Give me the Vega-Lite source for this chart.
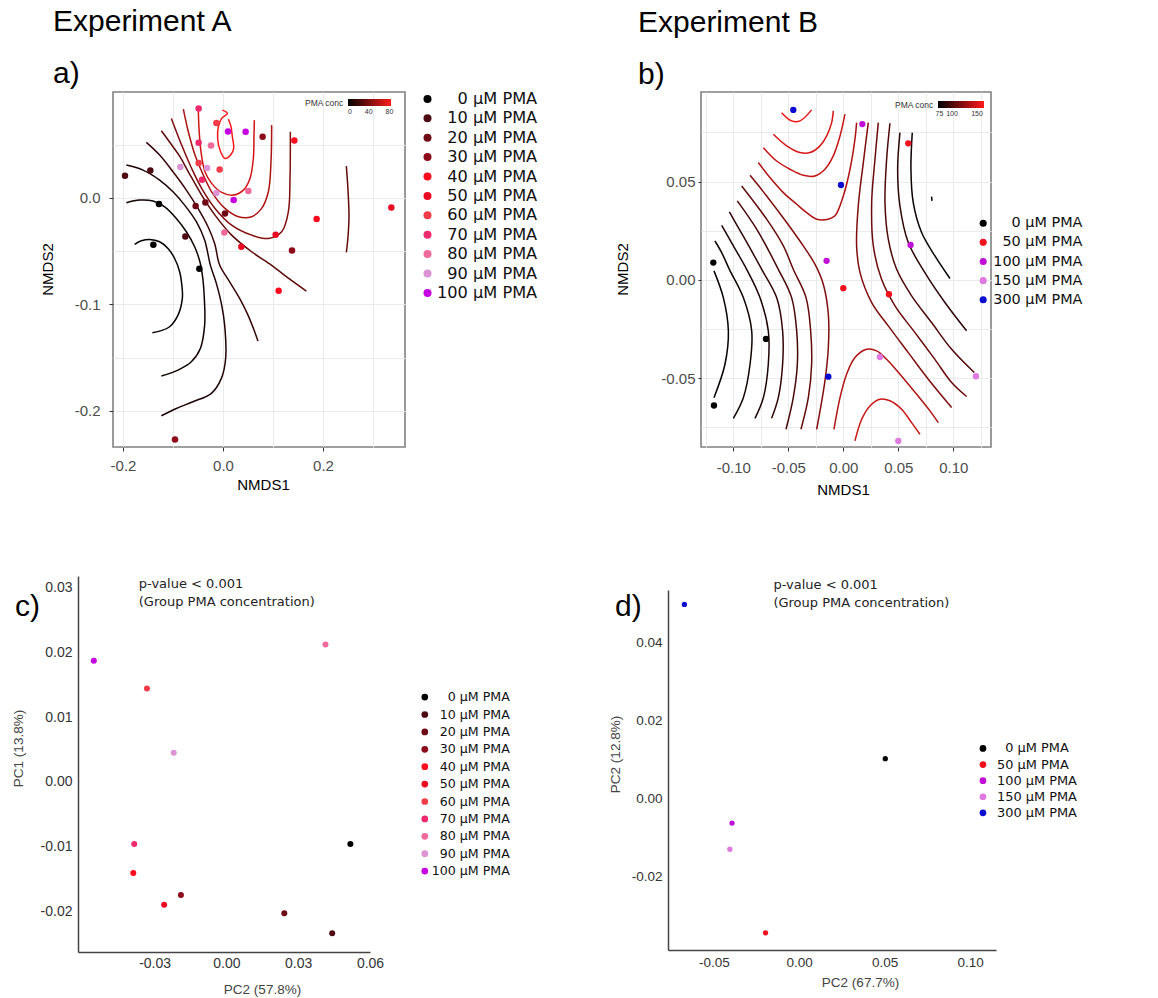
{
  "$schema": "https://vega.github.io/schema/vega-lite/v6.json",
  "padding": {"left": 11, "top": 6, "right": 5, "bottom": 5},
  "config": {
    "font": "Liberation Sans",
    "view": {"stroke": null},
    "axis": {"labelFont": "Liberation Sans", "titleFont": "Liberation Sans", "titleFontWeight": "normal"},
    "legend": {"padding": 0, "labelFont": "DejaVu Sans", "titleFont": "Liberation Sans"},
    "title": {"font": "Liberation Sans", "subtitleFont": "Liberation Sans", "fontWeight": "normal", "color": "#000", "subtitleColor": "#000"}
  },
  "resolve": {"scale": {"fill": "independent", "stroke": "independent"}, "legend": {"fill": "independent", "stroke": "independent"}},
  "datasets": {
    "contA": [
      {"id":"C1","level":3,"x":-0.1767,"y":-0.0438},{"id":"C1","level":3,"x":-0.1633,"y":-0.0404},{"id":"C1","level":3,"x":-0.1467,"y":-0.0391},{"id":"C1","level":3,"x":-0.1267,"y":-0.0413},{"id":"C1","level":3,"x":-0.11,"y":-0.0476},{"id":"C1","level":3,"x":-0.0967,"y":-0.057},{"id":"C1","level":3,"x":-0.0867,"y":-0.0695},{"id":"C1","level":3,"x":-0.082,"y":-0.0836},{"id":"C1","level":3,"x":-0.0813,"y":-0.0945},{"id":"C1","level":3,"x":-0.09,"y":-0.1102},{"id":"C1","level":3,"x":-0.1067,"y":-0.1211},{"id":"C1","level":3,"x":-0.1267,"y":-0.1252},{"id":"C1","level":3,"x":-0.1413,"y":-0.1268},
      {"id":"C2","level":6,"x":-0.1933,"y":-0.0047},{"id":"C2","level":6,"x":-0.1667,"y":-0.0022},{"id":"C2","level":6,"x":-0.14,"y":-0.0031},{"id":"C2","level":6,"x":-0.1167,"y":-0.0085},{"id":"C2","level":6,"x":-0.0933,"y":-0.0194},{"id":"C2","level":6,"x":-0.0733,"y":-0.0319},{"id":"C2","level":6,"x":-0.0567,"y":-0.046},{"id":"C2","level":6,"x":-0.0453,"y":-0.0617},{"id":"C2","level":6,"x":-0.04,"y":-0.0773},{"id":"C2","level":6,"x":-0.0373,"y":-0.0945},{"id":"C2","level":6,"x":-0.0367,"y":-0.1196},{"id":"C2","level":6,"x":-0.0453,"y":-0.1415},{"id":"C2","level":6,"x":-0.0633,"y":-0.154},{"id":"C2","level":6,"x":-0.09,"y":-0.1618},{"id":"C2","level":6,"x":-0.1233,"y":-0.1674},
      {"id":"C3","level":10,"x":-0.1933,"y":0.0307},{"id":"C3","level":10,"x":-0.16,"y":0.026},{"id":"C3","level":10,"x":-0.1267,"y":0.0166},{"id":"C3","level":10,"x":-0.1,"y":0.0056},{"id":"C3","level":10,"x":-0.0767,"y":-0.0069},{"id":"C3","level":10,"x":-0.0533,"y":-0.0225},{"id":"C3","level":10,"x":-0.0367,"y":-0.0397},{"id":"C3","level":10,"x":-0.0253,"y":-0.0632},{"id":"C3","level":10,"x":-0.0133,"y":-0.0804},{"id":"C3","level":10,"x":-0.0033,"y":-0.0992},{"id":"C3","level":10,"x":0.0033,"y":-0.1196},{"id":"C3","level":10,"x":0.0053,"y":-0.1509},{"id":"C3","level":10,"x":-0.0033,"y":-0.1696},{"id":"C3","level":10,"x":-0.0233,"y":-0.1837},{"id":"C3","level":10,"x":-0.06,"y":-0.1915},{"id":"C3","level":10,"x":-0.0933,"y":-0.1978},{"id":"C3","level":10,"x":-0.1233,"y":-0.2047},
      {"id":"C4","level":18,"x":-0.1533,"y":0.052},{"id":"C4","level":18,"x":-0.1267,"y":0.0401},{"id":"C4","level":18,"x":-0.1,"y":0.0244},{"id":"C4","level":18,"x":-0.0733,"y":0.0072},{"id":"C4","level":18,"x":-0.05,"y":-0.01},{"id":"C4","level":18,"x":-0.03,"y":-0.0272},{"id":"C4","level":18,"x":-0.0167,"y":-0.0429},{"id":"C4","level":18,"x":-0.0067,"y":-0.0632},{"id":"C4","level":18,"x":0.0133,"y":-0.0789},{"id":"C4","level":18,"x":0.0333,"y":-0.0945},{"id":"C4","level":18,"x":0.05,"y":-0.1102},{"id":"C4","level":18,"x":0.0633,"y":-0.1258},{"id":"C4","level":18,"x":0.07,"y":-0.1346},
      {"id":"C5","level":30,"x":-0.1233,"y":0.0629},{"id":"C5","level":30,"x":-0.1,"y":0.0479},{"id":"C5","level":30,"x":-0.0867,"y":0.039},{"id":"C5","level":30,"x":-0.0693,"y":0.0244},{"id":"C5","level":30,"x":-0.0427,"y":0.0025},{"id":"C5","level":30,"x":-0.016,"y":-0.0163},{"id":"C5","level":30,"x":0.0173,"y":-0.0351},{"id":"C5","level":30,"x":0.0573,"y":-0.0507},{"id":"C5","level":30,"x":0.0973,"y":-0.0635},{"id":"C5","level":30,"x":0.1307,"y":-0.0755},{"id":"C5","level":30,"x":0.1667,"y":-0.0876},
      {"id":"C6","level":42,"x":-0.1033,"y":0.0745},{"id":"C6","level":42,"x":-0.0827,"y":0.0495},{"id":"C6","level":42,"x":-0.0627,"y":0.0275},{"id":"C6","level":42,"x":-0.0427,"y":0.0088},{"id":"C6","level":42,"x":-0.016,"y":-0.01},{"id":"C6","level":42,"x":0.0173,"y":-0.0257},{"id":"C6","level":42,"x":0.0573,"y":-0.0351},{"id":"C6","level":42,"x":0.0907,"y":-0.0382},{"id":"C6","level":42,"x":0.1173,"y":-0.0319},{"id":"C6","level":42,"x":0.1307,"y":-0.0131},{"id":"C6","level":42,"x":0.134,"y":0.0182},{"id":"C6","level":42,"x":0.1347,"y":0.062},
      {"id":"C7","level":56,"x":-0.0793,"y":0.0833},{"id":"C7","level":56,"x":-0.0693,"y":0.062},{"id":"C7","level":56,"x":-0.056,"y":0.0401},{"id":"C7","level":56,"x":-0.0393,"y":0.0213},{"id":"C7","level":56,"x":-0.0227,"y":0.0056},{"id":"C7","level":56,"x":0.004,"y":-0.01},{"id":"C7","level":56,"x":0.0307,"y":-0.0178},{"id":"C7","level":56,"x":0.0573,"y":-0.0178},{"id":"C7","level":56,"x":0.0773,"y":-0.01},{"id":"C7","level":56,"x":0.0907,"y":0.0056},{"id":"C7","level":56,"x":0.096,"y":0.0338},{"id":"C7","level":56,"x":0.0973,"y":0.0682},
      {"id":"C8","level":68,"x":-0.0493,"y":0.0823},{"id":"C8","level":68,"x":-0.048,"y":0.0651},{"id":"C8","level":68,"x":-0.044,"y":0.0432},{"id":"C8","level":68,"x":-0.036,"y":0.0244},{"id":"C8","level":68,"x":-0.0227,"y":0.0135},{"id":"C8","level":68,"x":-0.0027,"y":0.005},{"id":"C8","level":68,"x":0.0207,"y":0.0025},{"id":"C8","level":68,"x":0.0407,"y":0.0072},{"id":"C8","level":68,"x":0.054,"y":0.0182},{"id":"C8","level":68,"x":0.0607,"y":0.0369},{"id":"C8","level":68,"x":0.062,"y":0.0588},{"id":"C8","level":68,"x":0.0627,"y":0.0729},
      {"id":"C9","level":80,"x":-0.0013,"y":0.0823},{"id":"C9","level":80,"x":0.0087,"y":0.0792},{"id":"C9","level":80,"x":-0.0027,"y":0.0745},{"id":"C9","level":80,"x":-0.0093,"y":0.0667},{"id":"C9","level":80,"x":-0.0107,"y":0.0557},{"id":"C9","level":80,"x":-0.006,"y":0.0448},{"id":"C9","level":80,"x":0.004,"y":0.0369},{"id":"C9","level":80,"x":0.016,"y":0.0407},{"id":"C9","level":80,"x":0.0213,"y":0.0463},{"id":"C9","level":80,"x":0.0187,"y":0.0573},{"id":"C9","level":80,"x":0.016,"y":0.0667},{"id":"C9","level":80,"x":0.0107,"y":0.0739},
      {"id":"C10","level":32,"x":0.2467,"y":0.0297},{"id":"C10","level":32,"x":0.25,"y":0.0072},{"id":"C10","level":32,"x":0.252,"y":-0.0178},{"id":"C10","level":32,"x":0.25,"y":-0.0366},{"id":"C10","level":32,"x":0.2467,"y":-0.0513}
    ],
    "ptsA": [
      {"conc":0,"x":-0.128,"y":-0.0059},{"conc":0,"x":-0.1393,"y":-0.0441},{"conc":0,"x":-0.0473,"y":-0.0667},
      {"conc":10,"x":-0.1453,"y":0.0257},{"conc":10,"x":-0.0753,"y":-0.0363},{"conc":10,"x":-0.196,"y":0.0207},
      {"conc":20,"x":-0.0547,"y":-0.0078},{"conc":20,"x":-0.0353,"y":-0.0044},{"conc":20,"x":0.004,"y":-0.0147},
      {"conc":30,"x":0.0793,"y":0.0573},{"conc":30,"x":0.138,"y":-0.0495},{"conc":30,"x":-0.096,"y":-0.2269},
      {"conc":40,"x":0.1427,"y":0.0538},{"conc":40,"x":0.1873,"y":-0.02},{"conc":40,"x":0.1113,"y":-0.0873},
      {"conc":50,"x":0.3367,"y":-0.0091},{"conc":50,"x":0.1053,"y":-0.0347},{"conc":50,"x":0.0367,"y":-0.046},
      {"conc":60,"x":-0.0133,"y":0.0701},{"conc":60,"x":-0.0487,"y":0.0326},{"conc":60,"x":-0.0067,"y":0.0266},
      {"conc":70,"x":-0.0487,"y":0.0839},{"conc":70,"x":-0.0487,"y":0.0516},{"conc":70,"x":-0.042,"y":0.0169},
      {"conc":80,"x":-0.024,"y":0.0491},{"conc":80,"x":0.0507,"y":0.0063},{"conc":80,"x":0.0027,"y":-0.0326},
      {"conc":90,"x":-0.0853,"y":0.0288},{"conc":90,"x":-0.032,"y":0.0279},{"conc":90,"x":-0.0133,"y":0.0044},
      {"conc":100,"x":0.01,"y":0.0623},{"conc":100,"x":0.0453,"y":0.062},{"conc":100,"x":0.0213,"y":-0.0022}
    ],
    "contB": [
      {"id":"G","level":74,"x":-0.1176,"y":0.0046},{"id":"G","level":74,"x":-0.1091,"y":-0.009},{"id":"G","level":74,"x":-0.1045,"y":-0.0259},{"id":"G","level":74,"x":-0.1076,"y":-0.0429},{"id":"G","level":74,"x":-0.1176,"y":-0.0599},
      {"id":"F","level":78,"x":-0.1167,"y":0.0198},{"id":"F","level":78,"x":-0.1106,"y":0.0139},{"id":"F","level":78,"x":-0.1036,"y":0.0054},{"id":"F","level":78,"x":-0.0909,"y":-0.009},{"id":"F","level":78,"x":-0.0833,"y":-0.0259},{"id":"F","level":78,"x":-0.0848,"y":-0.0429},{"id":"F","level":78,"x":-0.0909,"y":-0.0599},{"id":"F","level":78,"x":-0.1,"y":-0.0704},
      {"id":"E","level":82,"x":-0.1106,"y":0.0278},{"id":"E","level":82,"x":-0.1,"y":0.0173},{"id":"E","level":82,"x":-0.0879,"y":0.0054},{"id":"E","level":82,"x":-0.0758,"y":-0.009},{"id":"E","level":82,"x":-0.0682,"y":-0.0259},{"id":"E","level":82,"x":-0.0682,"y":-0.0429},{"id":"E","level":82,"x":-0.0727,"y":-0.0599},{"id":"E","level":82,"x":-0.0803,"y":-0.0704},
      {"id":"D","level":90,"x":-0.1036,"y":0.0346},{"id":"D","level":90,"x":-0.0894,"y":0.0207},{"id":"D","level":90,"x":-0.0742,"y":0.0054},{"id":"D","level":90,"x":-0.0606,"y":-0.009},{"id":"D","level":90,"x":-0.0552,"y":-0.0259},{"id":"D","level":90,"x":-0.0552,"y":-0.0429},{"id":"D","level":90,"x":-0.0591,"y":-0.0599},{"id":"D","level":90,"x":-0.0652,"y":-0.0704},
      {"id":"C","level":98,"x":-0.0964,"y":0.0402},{"id":"C","level":98,"x":-0.0788,"y":0.0258},{"id":"C","level":98,"x":-0.0591,"y":0.0054},{"id":"C","level":98,"x":-0.047,"y":-0.009},{"id":"C","level":98,"x":-0.0424,"y":-0.0259},{"id":"C","level":98,"x":-0.0418,"y":-0.0429},{"id":"C","level":98,"x":-0.0455,"y":-0.0599},{"id":"C","level":98,"x":-0.0521,"y":-0.076},
      {"id":"B","level":108,"x":-0.0924,"y":0.0478},{"id":"B","level":108,"x":-0.0697,"y":0.0309},{"id":"B","level":108,"x":-0.0545,"y":0.0173},{"id":"B","level":108,"x":-0.0455,"y":0.0054},{"id":"B","level":108,"x":-0.0339,"y":-0.009},{"id":"B","level":108,"x":-0.0297,"y":-0.0259},{"id":"B","level":108,"x":-0.0288,"y":-0.0429},{"id":"B","level":108,"x":-0.0318,"y":-0.0599},{"id":"B","level":108,"x":-0.0385,"y":-0.076},
      {"id":"A","level":118,"x":-0.0848,"y":0.0532},{"id":"A","level":118,"x":-0.0697,"y":0.0427},{"id":"A","level":118,"x":-0.0515,"y":0.0292},{"id":"A","level":118,"x":-0.0364,"y":0.0173},{"id":"A","level":118,"x":-0.0258,"y":0.008},{"id":"A","level":118,"x":-0.0182,"y":-0.0022},{"id":"A","level":118,"x":-0.0136,"y":-0.0175},{"id":"A","level":118,"x":-0.0136,"y":-0.0344},{"id":"A","level":118,"x":-0.0167,"y":-0.0514},{"id":"A","level":118,"x":-0.0242,"y":-0.076},
      {"id":"U4","level":135,"x":-0.0773,"y":0.0597},{"id":"U4","level":135,"x":-0.0667,"y":0.0521},{"id":"U4","level":135,"x":-0.0545,"y":0.0444},{"id":"U4","level":135,"x":-0.0424,"y":0.0385},{"id":"U4","level":135,"x":-0.0333,"y":0.0342},{"id":"U4","level":135,"x":-0.0242,"y":0.0309},{"id":"U4","level":135,"x":-0.0136,"y":0.0309},{"id":"U4","level":135,"x":-0.0076,"y":0.0326},{"id":"U4","level":135,"x":0.0,"y":0.0427},{"id":"U4","level":135,"x":0.0061,"y":0.0563},{"id":"U4","level":135,"x":0.0106,"y":0.0716},{"id":"U4","level":135,"x":0.0121,"y":0.08},
      {"id":"U3","level":143,"x":-0.0727,"y":0.0673},{"id":"U3","level":143,"x":-0.0606,"y":0.0605},{"id":"U3","level":143,"x":-0.0485,"y":0.0563},{"id":"U3","level":143,"x":-0.0364,"y":0.0532},{"id":"U3","level":143,"x":-0.0258,"y":0.0529},{"id":"U3","level":143,"x":-0.0167,"y":0.0563},{"id":"U3","level":143,"x":-0.0091,"y":0.0631},{"id":"U3","level":143,"x":-0.003,"y":0.0732},{"id":"U3","level":143,"x":0.0015,"y":0.0843},
      {"id":"U2","level":150,"x":-0.0636,"y":0.0741},{"id":"U2","level":150,"x":-0.0515,"y":0.0682},{"id":"U2","level":150,"x":-0.0394,"y":0.0648},{"id":"U2","level":150,"x":-0.0303,"y":0.0648},{"id":"U2","level":150,"x":-0.0212,"y":0.0682},{"id":"U2","level":150,"x":-0.0152,"y":0.0732},{"id":"U2","level":150,"x":-0.0106,"y":0.08},{"id":"U2","level":150,"x":-0.0091,"y":0.086},
      {"id":"V","level":158,"x":-0.0561,"y":0.0851},{"id":"V","level":158,"x":-0.047,"y":0.0809},{"id":"V","level":158,"x":-0.0394,"y":0.0809},{"id":"V","level":158,"x":-0.0288,"y":0.0865},
      {"id":"R1","level":118,"x":0.0227,"y":0.08},{"id":"R1","level":118,"x":0.0182,"y":0.0597},{"id":"R1","level":118,"x":0.0136,"y":0.0376},{"id":"R1","level":118,"x":0.0121,"y":0.0173},{"id":"R1","level":118,"x":0.0152,"y":0.0037},{"id":"R1","level":118,"x":0.0258,"y":-0.0115},{"id":"R1","level":118,"x":0.0409,"y":-0.0234},{"id":"R1","level":118,"x":0.0591,"y":-0.037},{"id":"R1","level":118,"x":0.0773,"y":-0.0505},{"id":"R1","level":118,"x":0.0985,"y":-0.0649},
      {"id":"R2","level":110,"x":0.0318,"y":0.08},{"id":"R2","level":110,"x":0.0288,"y":0.0614},{"id":"R2","level":110,"x":0.0258,"y":0.0393},{"id":"R2","level":110,"x":0.0273,"y":0.0173},{"id":"R2","level":110,"x":0.0348,"y":0.0003},{"id":"R2","level":110,"x":0.047,"y":-0.0132},{"id":"R2","level":110,"x":0.0652,"y":-0.0268},{"id":"R2","level":110,"x":0.0833,"y":-0.0404},{"id":"R2","level":110,"x":0.0985,"y":-0.0522},{"id":"R2","level":110,"x":0.1121,"y":-0.0593},
      {"id":"R3","level":100,"x":0.0424,"y":0.0797},{"id":"R3","level":100,"x":0.0394,"y":0.0614},{"id":"R3","level":100,"x":0.0379,"y":0.0393},{"id":"R3","level":100,"x":0.0409,"y":0.0207},{"id":"R3","level":100,"x":0.0485,"y":0.0054},{"id":"R3","level":100,"x":0.0621,"y":-0.0081},{"id":"R3","level":100,"x":0.0803,"y":-0.0217},{"id":"R3","level":100,"x":0.0985,"y":-0.0353},{"id":"R3","level":100,"x":0.1191,"y":-0.0471},
      {"id":"R4","level":88,"x":0.0515,"y":0.0749},{"id":"R4","level":88,"x":0.0494,"y":0.0563},{"id":"R4","level":88,"x":0.0515,"y":0.0376},{"id":"R4","level":88,"x":0.0591,"y":0.019},{"id":"R4","level":88,"x":0.0742,"y":0.0037},{"id":"R4","level":88,"x":0.0924,"y":-0.0115},{"id":"R4","level":88,"x":0.1121,"y":-0.0259},
      {"id":"R5","level":76,"x":0.0627,"y":0.0749},{"id":"R5","level":76,"x":0.0615,"y":0.0563},{"id":"R5","level":76,"x":0.0636,"y":0.0393},{"id":"R5","level":76,"x":0.0712,"y":0.0241},{"id":"R5","level":76,"x":0.0833,"y":0.0122},{"id":"R5","level":76,"x":0.097,"y":0.0007},
      {"id":"N1","level":135,"x":-0.0085,"y":-0.076},{"id":"N1","level":135,"x":-0.003,"y":-0.0599},{"id":"N1","level":135,"x":0.003,"y":-0.048},{"id":"N1","level":135,"x":0.0106,"y":-0.0395},{"id":"N1","level":135,"x":0.0212,"y":-0.0353},{"id":"N1","level":135,"x":0.0303,"y":-0.0361},{"id":"N1","level":135,"x":0.0394,"y":-0.0404},{"id":"N1","level":135,"x":0.0515,"y":-0.048},{"id":"N1","level":135,"x":0.0667,"y":-0.0582},{"id":"N1","level":135,"x":0.0788,"y":-0.0666},{"id":"N1","level":135,"x":0.0864,"y":-0.0726},
      {"id":"N2","level":145,"x":0.0106,"y":-0.0819},{"id":"N2","level":145,"x":0.0167,"y":-0.0709},{"id":"N2","level":145,"x":0.0242,"y":-0.0641},{"id":"N2","level":145,"x":0.0333,"y":-0.0607},{"id":"N2","level":145,"x":0.0424,"y":-0.0615},{"id":"N2","level":145,"x":0.053,"y":-0.0658},{"id":"N2","level":145,"x":0.0621,"y":-0.0726},{"id":"N2","level":145,"x":0.0697,"y":-0.0785},
      {"id":"T","level":74,"x":0.0803,"y":0.0424},{"id":"T","level":74,"x":0.0806,"y":0.0402}
    ],
    "ptsB": [
      {"conc":0,"x":-0.1182,"y":0.0088},{"conc":0,"x":-0.0703,"y":-0.03},{"conc":0,"x":-0.1176,"y":-0.0639},
      {"conc":50,"x":0.0591,"y":0.0695},{"conc":50,"x":0.0,"y":-0.0042},{"conc":50,"x":0.0415,"y":-0.0073},
      {"conc":100,"x":0.0173,"y":0.0793},{"conc":100,"x":0.0612,"y":0.0178},{"conc":100,"x":-0.0152,"y":0.0097},
      {"conc":150,"x":0.0333,"y":-0.0392},{"conc":150,"x":0.1206,"y":-0.049},{"conc":150,"x":0.05,"y":-0.0819},
      {"conc":300,"x":-0.0455,"y":0.0865},{"conc":300,"x":-0.0021,"y":0.0483},{"conc":300,"x":-0.0136,"y":-0.0492}
    ],
    "ptsC": [
      {"conc":0,"x":0.0518,"y":-0.0096},{"conc":10,"x":0.0442,"y":-0.0234},{"conc":20,"x":0.0242,"y":-0.0203},{"conc":30,"x":-0.019,"y":-0.0175},{"conc":40,"x":-0.0389,"y":-0.0141},{"conc":50,"x":-0.026,"y":-0.019},{"conc":60,"x":-0.0332,"y":0.0144},{"conc":70,"x":-0.0385,"y":-0.0096},{"conc":80,"x":0.0414,"y":0.0212},{"conc":90,"x":-0.022,"y":0.0045},{"conc":100,"x":-0.0554,"y":0.0187}
    ],
    "ptsD": [
      {"conc":0,"x":0.0504,"y":0.0102},{"conc":50,"x":-0.0197,"y":-0.0344},{"conc":100,"x":-0.0393,"y":-0.0063},{"conc":150,"x":-0.0406,"y":-0.013},{"conc":300,"x":-0.0672,"y":0.0497}
    ]
  },
  "columns": 2,
  "align": "none",
  "bounds": "flush",
  "spacing": {"row": 129, "column": 296},
  "concat": [
    {
      "width": 292, "height": 355,
      "view": {"stroke": "#808080", "strokeWidth": 1.6},
      "title": {"text": "Experiment A", "subtitle": "a)", "anchor": "start", "frame": "group", "dx": -60, "fontSize": 30, "subtitleFontSize": 30, "subtitlePadding": 22, "offset": 2},
      "layer": [
        {
          "data": {"name": "contA"},
          "mark": {"type": "line", "strokeWidth": 1.5, "interpolate": "catmull-rom"},
          "encoding": {
            "x": {"field": "x", "type": "quantitative", "scale": {"domain": [-0.22, 0.364], "nice": false, "zero": false},
              "axis": {"values": [-0.2, -0.1, 0, 0.1, 0.2, 0.3], "tickCount": 30, "labelExpr": "round(datum.value*10) % 2 != 0 ? '' : (datum.value < -1e-9 ? '-' : '') + format(abs(datum.value), '.1f')", "tickOpacity": {"condition": {"test": "round(datum.value*10) % 2 != 0", "value": 0}, "value": 1}, "domain": false, "grid": true, "gridColor": "#ebebeb", "tickColor": "#333", "tickSize": 4, "labelPadding": 7, "labelFontSize": 15, "labelColor": "#4d4d4d", "labelFlush": false, "labelOverlap": false, "title": "NMDS1", "titleFontSize": 15, "titleColor": "#000", "titleX": 150, "titleY": 37, "titleBaseline": "middle"}},
            "y": {"field": "y", "type": "quantitative", "scale": {"domain": [-0.234, 0.0993], "nice": false, "zero": false},
              "axis": {"values": [-0.2, -0.15, -0.1, -0.05, 0, 0.05], "tickCount": 30, "labelExpr": "round(datum.value*20) % 2 != 0 ? '' : (datum.value < -1e-9 ? '-' : '') + format(abs(datum.value), '.1f')", "tickOpacity": {"condition": {"test": "round(datum.value*20) % 2 != 0", "value": 0}, "value": 1}, "domain": false, "grid": true, "gridColor": "#ebebeb", "tickColor": "#333", "tickSize": 4, "labelPadding": 9, "labelFontSize": 15, "labelColor": "#4d4d4d", "labelFlush": false, "labelOverlap": false, "title": "NMDS2", "titleFontSize": 15, "titleColor": "#000", "titleX": -66, "titleY": 177, "titleBaseline": "middle"}},
            "stroke": {"field": "level", "type": "quantitative", "scale": {"domain": [0, 83], "range": ["#000000", "#ff1a1a"], "interpolate": "rgb"},
              "legend": {"title": "PMA conc", "orient": "none", "legendX": 192, "legendY": 7, "direction": "horizontal", "titleOrient": "left", "gradientLength": 43, "gradientThickness": 7, "values": [0, 40, 80], "labelFontSize": 7, "labelFont": "Liberation Sans", "titleFontSize": 8.5, "titleFontWeight": "normal", "titleColor": "#333", "labelColor": "#333", "titlePadding": 4, "labelOverlap": false, "gradientStrokeWidth": 0}},
            "detail": {"field": "id"},
            "order": {"value": null}
          }
        },
        {
          "data": {"name": "ptsA"},
          "mark": {"type": "circle", "size": 42, "opacity": 1},
          "encoding": {
            "x": {"field": "x", "type": "quantitative"},
            "y": {"field": "y", "type": "quantitative"},
            "fill": {"field": "conc", "type": "ordinal",
              "scale": {"domain": [0, 10, 20, 30, 40, 50, 60, 70, 80, 90, 100], "range": ["#000000", "#4d0a12", "#6e0a16", "#8c0a1a", "#ff0a1e", "#ec0a22", "#f23c4a", "#ee2a6c", "#f06a9a", "#dc94d4", "#c400e0"]},
              "legend": {"title": null, "orient": "none", "legendX": 306.4, "legendY": -1.2, "symbolType": "circle", "symbolSize": 64, "symbolStrokeWidth": 0, "labelFontSize": 16.2, "labelColor": "#111", "labelAlign": "right", "labelOffset": 101.6, "rowPadding": 2.4,
                "labelExpr": "datum.value + ' µM PMA'"}}
          }
        }
      ]
    },
    {
      "width": 290, "height": 355,
      "view": {"stroke": "#808080", "strokeWidth": 1.6},
      "title": {"text": "Experiment B", "subtitle": "b)", "anchor": "start", "frame": "group", "dx": -63, "fontSize": 30, "subtitleFontSize": 30, "subtitlePadding": 22, "offset": 2},
      "layer": [
        {
          "data": {"name": "contB"},
          "mark": {"type": "line", "strokeWidth": 1.5, "interpolate": "catmull-rom"},
          "encoding": {
            "x": {"field": "x", "type": "quantitative", "scale": {"domain": [-0.1294, 0.1343], "nice": false, "zero": false},
              "axis": {"values": [-0.125, -0.1, -0.075, -0.05, -0.025, 0, 0.025, 0.05, 0.075, 0.1, 0.125], "tickCount": 30, "labelExpr": "round(datum.value*40) % 2 != 0 ? '' : (datum.value < -1e-9 ? '-' : '') + format(abs(datum.value), '.2f')", "tickOpacity": {"condition": {"test": "round(datum.value*40) % 2 != 0", "value": 0}, "value": 1}, "domain": false, "grid": true, "gridColor": "#ebebeb", "tickColor": "#333", "tickSize": 4, "labelPadding": 9, "labelFontSize": 15, "labelColor": "#4d4d4d", "labelFlush": false, "labelOverlap": false, "title": "NMDS1", "titleFontSize": 15, "titleColor": "#000", "titleX": 142, "titleY": 42, "titleBaseline": "middle"}},
            "y": {"field": "y", "type": "quantitative", "scale": {"domain": [-0.085, 0.0956], "nice": false, "zero": false},
              "axis": {"values": [-0.075, -0.05, -0.025, 0, 0.025, 0.05, 0.075], "tickCount": 30, "labelExpr": "round(datum.value*40) % 2 != 0 ? '' : (datum.value < -1e-9 ? '-' : '') + format(abs(datum.value), '.2f')", "tickOpacity": {"condition": {"test": "round(datum.value*40) % 2 != 0", "value": 0}, "value": 1}, "domain": false, "grid": true, "gridColor": "#ebebeb", "tickColor": "#333", "tickSize": 3, "labelPadding": 3, "labelFontSize": 15, "labelColor": "#4d4d4d", "labelFlush": false, "labelOverlap": false, "title": "NMDS2", "titleFontSize": 15, "titleColor": "#000", "titleX": -79, "titleY": 177, "titleBaseline": "middle"}},
            "stroke": {"field": "level", "type": "quantitative", "scale": {"domain": [72, 164], "range": ["#000000", "#ff1a1a"], "interpolate": "rgb"},
              "legend": {"title": "PMA conc", "orient": "none", "legendX": 194, "legendY": 9, "direction": "horizontal", "titleOrient": "left", "gradientLength": 46, "gradientThickness": 7, "values": [75, 100, 150], "labelFontSize": 7, "labelFont": "Liberation Sans", "titleFontSize": 8.5, "titleFontWeight": "normal", "titleColor": "#333", "labelColor": "#333", "titlePadding": 4, "labelOverlap": false, "gradientStrokeWidth": 0}},
            "detail": {"field": "id"},
            "order": {"value": null}
          }
        },
        {
          "data": {"name": "ptsB"},
          "mark": {"type": "circle", "size": 40, "opacity": 1},
          "encoding": {
            "x": {"field": "x", "type": "quantitative"},
            "y": {"field": "y", "type": "quantitative"},
            "fill": {"field": "conc", "type": "ordinal",
              "scale": {"domain": [0, 50, 100, 150, 300], "range": ["#000000", "#f0101e", "#c010d8", "#e07ae0", "#0a0ad0"]},
              "legend": {"title": null, "orient": "none", "legendX": 275, "legendY": 124, "symbolType": "circle", "symbolSize": 50, "symbolStrokeWidth": 0, "labelFontSize": 14.4, "labelColor": "#111", "labelAlign": "right", "labelOffset": 92, "rowPadding": 4.15,
                "labelExpr": "datum.value + ' µM PMA'"}}
          }
        }
      ]
    },
    {
      "width": 257, "height": 376,
      "view": {"stroke": null},
      "title": {"text": "c)", "anchor": "start", "frame": "group", "dx": -98, "dy": 46, "fontSize": 30, "offset": 0},
      "layer": [
        {
          "data": {"name": "ptsC"},
          "mark": {"type": "circle", "size": 36, "opacity": 1},
          "encoding": {
            "x": {"field": "x", "type": "quantitative", "scale": {"domain": [-0.062, 0.06], "range": [-35, 257], "nice": false, "zero": false},
              "axis": {"values": [-0.03, 0, 0.03, 0.06], "labelExpr": "(datum.value < -1e-9 ? '-' : '') + format(abs(datum.value), '.2f')", "domain": true, "domainColor": "#444", "domainWidth": 1.5, "grid": false, "ticks": false, "tickSize": 0, "labelPadding": 4, "labelFontSize": 14, "labelColor": "#333", "labelFlush": false, "labelOverlap": false, "title": "PC2 (57.8%)", "titleFontSize": 13.5, "titleColor": "#444", "titleX": 149, "titleY": 37, "titleBaseline": "middle"}},
            "y": {"field": "y", "type": "quantitative", "scale": {"domain": [-0.0263, 0.0318], "nice": false, "zero": false},
              "axis": {"values": [-0.02, -0.01, 0, 0.01, 0.02, 0.03], "labelExpr": "(datum.value < -1e-9 ? '-' : '') + format(abs(datum.value), '.2f')", "offset": 35, "domain": true, "domainColor": "#444", "domainWidth": 1.5, "grid": false, "ticks": false, "tickSize": 0, "labelPadding": 6, "labelFontSize": 14, "labelColor": "#333", "labelFlush": false, "labelOverlap": false, "title": "PC1 (13.8%)", "titleFontSize": 13.5, "titleColor": "#444", "titleX": -60, "titleY": 172, "titleBaseline": "middle"}},
            "fill": {"field": "conc", "type": "ordinal",
              "scale": {"domain": [0, 10, 20, 30, 40, 50, 60, 70, 80, 90, 100], "range": ["#000000", "#4d0a12", "#6e0a16", "#8c0a1a", "#ff0a1e", "#ec0a22", "#f23c4a", "#ee2a6c", "#f06a9a", "#dc94d4", "#c400e0"]},
              "legend": {"title": null, "orient": "none", "legendX": 305.5, "legendY": 114.8, "symbolType": "circle", "symbolSize": 45, "symbolStrokeWidth": 0, "labelFontSize": 12.6, "labelColor": "#111", "labelAlign": "right", "labelOffset": 78.7, "rowPadding": 4.4,
                "labelExpr": "datum.value + ' µM PMA'"}}
          }
        },
        {
          "data": {"values": [{}]},
          "mark": {"type": "text", "align": "left", "baseline": "alphabetic", "font": "DejaVu Sans", "fontSize": 13, "lineHeight": 18, "color": "#222"},
          "encoding": {
            "x": {"datum": -0.0366},
            "y": {"datum": 0.03},
            "text": {"value": ["p-value < 0.001", "(Group PMA concentration)"]}
          }
        }
      ]
    },
    {
      "width": 295, "height": 374,
      "view": {"stroke": null},
      "title": {"text": "d)", "anchor": "start", "frame": "group", "dx": -86, "dy": 46, "fontSize": 30, "offset": 0},
      "layer": [
        {
          "data": {"name": "ptsD"},
          "mark": {"type": "circle", "size": 28, "opacity": 1},
          "encoding": {
            "x": {"field": "x", "type": "quantitative", "scale": {"domain": [-0.0768, 0.1152], "range": [-33, 295], "nice": false, "zero": false},
              "axis": {"values": [-0.05, 0, 0.05, 0.1], "labelExpr": "(datum.value < -1e-9 ? '-' : '') + format(abs(datum.value), '.2f')", "domain": true, "domainColor": "#444", "domainWidth": 1.5, "grid": false, "ticks": false, "tickSize": 0, "labelPadding": 5, "labelFontSize": 13.5, "labelColor": "#333", "labelFlush": false, "labelOverlap": false, "title": "PC2 (67.7%)", "titleFontSize": 13.5, "titleColor": "#444", "titleX": 159, "titleY": 32, "titleBaseline": "middle"}},
            "y": {"field": "y", "type": "quantitative", "scale": {"domain": [-0.0388, 0.0534], "range": [374, 14], "nice": false, "zero": false},
              "axis": {"values": [-0.02, 0, 0.02, 0.04], "labelExpr": "(datum.value < -1e-9 ? '-' : '') + format(abs(datum.value), '.2f')", "offset": 33, "domain": true, "domainColor": "#444", "domainWidth": 1.5, "grid": false, "ticks": false, "tickSize": 0, "labelPadding": 6, "labelFontSize": 13.5, "labelColor": "#333", "labelFlush": false, "labelOverlap": false, "title": "PC2 (12.8%)", "titleFontSize": 13.5, "titleColor": "#444", "titleX": -53, "titleY": 178, "titleBaseline": "middle"}},
            "fill": {"field": "conc", "type": "ordinal",
              "scale": {"domain": [0, 50, 100, 150, 300], "range": ["#000000", "#f0101e", "#c010d8", "#e07ae0", "#0a0ad0"]},
              "legend": {"title": null, "orient": "none", "legendX": 275.5, "legendY": 166, "symbolType": "circle", "symbolSize": 45, "symbolStrokeWidth": 0, "labelFontSize": 12.9, "labelColor": "#111", "labelOffset": 7.7, "rowPadding": 2.1,
                "labelExpr": "(datum.value < 10 ? '\u2060\u2007' : '') + datum.value + ' µM PMA'"}}
          }
        },
        {
          "data": {"values": [{}]},
          "mark": {"type": "text", "align": "left", "baseline": "alphabetic", "font": "DejaVu Sans", "fontSize": 13, "lineHeight": 18, "color": "#222"},
          "encoding": {
            "x": {"datum": -0.0151},
            "y": {"datum": 0.0537},
            "text": {"value": ["p-value < 0.001", "(Group PMA concentration)"]}
          }
        }
      ]
    }
  ]
}
